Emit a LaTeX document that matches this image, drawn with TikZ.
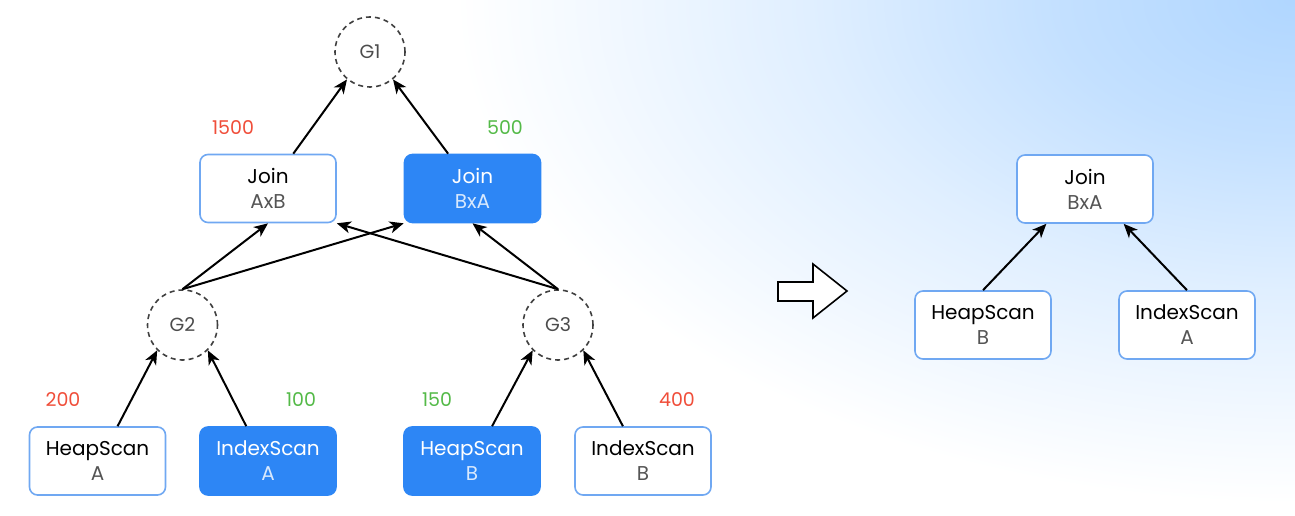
\documentclass[tikz,border=0pt]{standalone}
\usepackage{fontspec}
\setmainfont{Poppins}
\usetikzlibrary{positioning, arrows.meta}
\usepackage{xcolor}

\definecolor{planblue}{RGB}{45,134,245}
\definecolor{edgeblue}{RGB}{112,168,242}
\definecolor{subgray}{RGB}{85,85,85}
\definecolor{costred}{RGB}{240,78,58}
\definecolor{costgreen}{RGB}{84,186,72}
\definecolor{skyblue}{RGB}{176,214,255}
\pgfdeclareradialshading{skyglow}{\pgfpoint{0bp}{0bp}}{%
    color(0bp)=(skyblue); color(3bp)=(skyblue!75!white);
    color(6bp)=(skyblue!40!white); color(10.5bp)=(white); color(50bp)=(white)}

\begin{document}
\begin{tikzpicture}[x=0.5pt, y=0.5pt,
    plan/.style={draw=edgeblue, line width=0.8pt, rounded corners=4pt, fill=white,
        minimum width=68pt, minimum height=34pt, inner sep=0pt, align=center,
        font=\fontsize{10}{12.5}\selectfont,
        execute at begin node=\colorlet{subtxt}{subgray}},
    chosen/.style={plan, draw=planblue, fill=planblue, text=white,
        execute at begin node=\colorlet{subtxt}{white!82!planblue}},
    group/.style={circle, draw=black!75, dash pattern=on 2.5pt off 2pt, line width=0.8pt,
        minimum size=35pt, inner sep=0pt, text=black!70, font=\fontsize{9.5}{11}\selectfont},
    cost/.style={font=\fontsize{9.5}{11}\selectfont},
    edge/.style={-{Stealth[length=7pt, width=6pt, inset=2pt]}, line width=1pt}]

    % Background
    \useasboundingbox (0,0) rectangle (1295,515);
    \fill[white] (0,0) rectangle (1295,515);
    \begin{scope}
        \clip (0,0) rectangle (1295,515);
        \shade[shading=skyglow] (1295,515) ellipse (2000 and 1200);
    \end{scope}

    % Groups
    \node[group] (g1) at (370,463) {G1};
    \node[group] (g2) at (182.5,190) {G2};
    \node[group] (g3) at (558,190) {G3};

    % Joins
    \node[plan] (joinab) at (268,326.5) {Join\\\textcolor{subtxt}{AxB}};
    \node[chosen] (joinba) at (472.5,326.5) {Join\\\textcolor{subtxt}{BxA}};

    % Scans
    \node[plan] (heapa) at (97.5,54) {HeapScan\\\textcolor{subtxt}{A}};
    \node[chosen] (idxa) at (268,54) {IndexScan\\\textcolor{subtxt}{A}};
    \node[chosen] (heapb) at (472,54) {HeapScan\\\textcolor{subtxt}{B}};
    \node[plan] (idxb) at (643,54) {IndexScan\\\textcolor{subtxt}{B}};

    % Costs
    \node[cost, text=costred] (c1500) at (233,387) {1500};
    \node[cost, text=costgreen] (c500) at (505,387) {500};
    \node[cost, text=costred] (c200) at (63,115) {200};
    \node[cost, text=costgreen] (c100) at (301,115) {100};
    \node[cost, text=costgreen] (c150) at (437,115) {150};
    \node[cost, text=costred] (c400) at (677,115) {400};

    % Edges
    \draw[edge] (heapa.60) -- (g2.225);
    \draw[edge] (idxa.122) -- (g2.315);
    \draw[edge] (heapb.60) -- (g3.225);
    \draw[edge] (idxb.120) -- (g3.315);
    \draw[edge] (g2.north) -- (joinab.south);
    \draw[edge] (g2.north) -- (joinba.south west);
    \draw[edge] (g3.north) -- (joinab.south east);
    \draw[edge] (g3.north) -- (joinba.south);
    \draw[edge] (joinab.54) -- (g1.230);
    \draw[edge] (joinba.125) -- (g1.310);

    % Hollow arrow
    \draw[line width=0.8pt, fill=white, line join=miter]
        (778,233) -- (813,233) -- (813,251) -- (847,224) -- (813,197) -- (813,214) -- (778,214) -- cycle;

    % Chosen plan
    \node[plan] (newjoin) at (1085,326) {Join\\\textcolor{subtxt}{BxA}};
    \node[plan] (newheap) at (983,190) {HeapScan\\\textcolor{subtxt}{B}};
    \node[plan] (newidx) at (1187,190) {IndexScan\\\textcolor{subtxt}{A}};

    \draw[edge] (newheap.north) -- (newjoin.222);
    \draw[edge] (newidx.north) -- (newjoin.318);

\end{tikzpicture}
\end{document}
